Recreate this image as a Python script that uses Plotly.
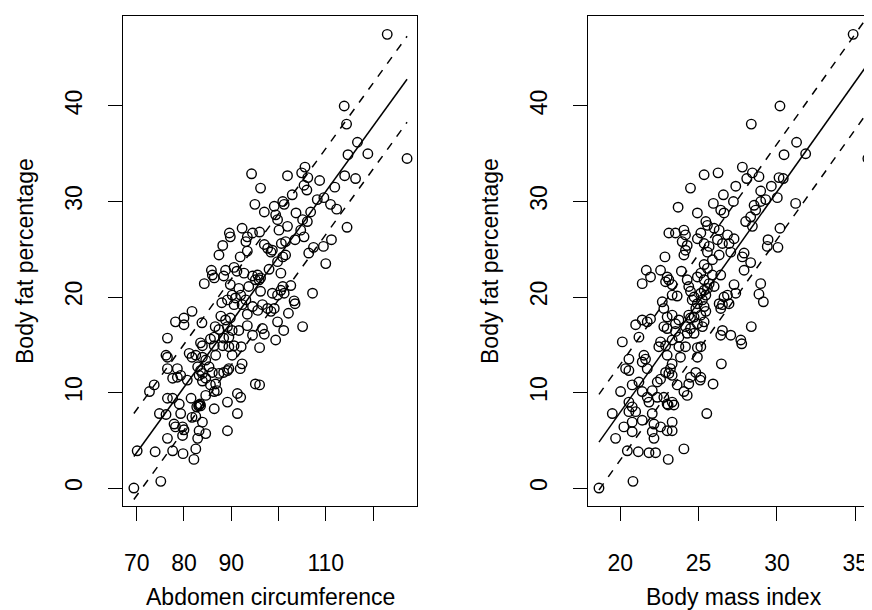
import plotly.graph_objects as go

# ---------------- data ----------------
abdomen = [94.3,
 123.0,113.9,114.4,116.7,114.7,118.9,127.2,105.6,104.9,101.9,106.2,108.7,114.0,116.3,
 96.2,105.4,106.0,111.9,102.9,99.1,100.9,101.2,97.0,108.2,109.6,111.0,112.3,106.8,103.7,99.4,99.8,105.1,106.1,101.9,
 100.1,96.0,104.7,105.4,114.5,103.5,101.5,100.6,111.2,109.5,107.4,106.4,97.0,97.7,98.7,98.4,101.5,100.9,99.8,110.0,
 98.0,100.5,95.6,96.2,95.9,102.6,100.9,100.5,101.2,99.8,98.7,96.2,107.2,103.3,103.5,96.6,97.7,98.4,99.1,95.6,
 102.1,99.8,105.1,101.1,96.6,97.0,99.4,
 96.0,96.0,
 95.0,89.6,89.8,92.3,93.1,93.4,94.5,88.2,87.4,93.4,91.9,85.8,86.0,86.4,84.3,88.8,90.6,91.2,88.4,92.7,94.5,89.8,91.6,
 93.7,95.1,90.2,90.9,92.0,89.2,93.1,90.6,92.3,94.5,88.0,81.7,80.0,78.2,80.0,83.8,87.8,88.8,89.8,86.6,87.4,89.2,90.2,
 93.4,93.4,91.6,94.5,76.5,83.5,85.6,86.4,88.4,89.5,
 83.9,86.4,88.2,89.5,90.6,92.1,76.2,76.5,81.1,81.7,82.5,83.9,84.6,86.7,90.2,92.3,76.5,78.6,79.3,82.9,83.5,83.9,83.2,
 85.3,86.0,87.4,88.4,89.2,89.5,91.9,95.1,77.6,78.6,80.7,83.9,84.6,85.6,86.7,87.0,86.4,73.7,72.7,77.6,76.5,79.0,81.5,
 83.2,83.4,83.1,83.5,82.7,86.4,89.2,91.3,92.0,91.3,89.2,74.8,76.2,79.3,81.7,82.5,77.9,78.2,79.7,80.0,83.9,83.2,84.6,
 79.7,76.5,82.9,70.1,73.9,77.6,79.8,82.5,82.1,75.1,69.4,84.6]
bodyfat_abd = [32.9,
 47.5,40.0,38.1,36.2,34.9,35.0,34.5,33.6,33.0,32.7,32.5,32.2,32.7,32.4,
 31.4,31.7,31.2,31.5,30.7,29.5,30.0,29.7,28.9,30.2,30.4,29.7,29.2,28.9,28.8,28.6,28.1,28.1,27.9,27.4,
 27.0,26.8,27.0,26.3,27.3,26.0,25.8,25.6,26.0,25.3,25.2,24.6,25.5,25.1,24.9,24.7,24.4,24.2,23.7,23.5,
 22.9,22.5,22.3,22.0,21.8,21.2,21.1,20.7,20.4,20.2,20.4,20.6,20.4,19.6,19.3,19.2,18.8,18.5,18.8,18.6,
 18.3,17.4,16.9,16.5,16.7,16.1,15.5,
 14.7,10.8,
 29.7,26.7,26.3,27.2,25.8,26.3,26.7,25.4,24.4,24.8,24.2,22.8,22.3,22.0,21.4,22.8,23.1,22.7,22.2,22.5,22.2,21.3,20.9,
 21.1,21.8,20.2,19.9,20.2,19.7,19.7,19.2,19.2,19.0,19.4,18.5,17.8,17.4,17.1,17.3,18.0,17.6,17.8,16.9,16.6,16.9,16.5,
 18.2,17.0,16.5,16.0,15.7,15.2,15.6,15.8,15.7,15.8,
 14.9,14.9,14.9,14.8,14.9,14.8,13.9,13.7,14.1,13.7,13.9,13.7,13.4,13.9,13.9,13.0,12.5,12.5,11.8,12.7,12.3,12.0,11.8,
 12.7,12.1,12.0,12.1,12.3,12.5,12.5,10.9,11.5,11.6,11.3,11.2,11.5,10.8,10.9,10.2,10.1,10.8,10.1,9.4,9.4,8.8,9.4,
 8.7,8.8,8.6,8.6,8.5,8.3,9.0,9.9,9.5,7.8,6.0,7.8,7.7,7.8,7.4,7.5,6.7,6.4,6.4,6.1,6.9,6.0,5.7,
 5.5,5.2,5.2,3.9,3.8,3.9,3.6,4.1,3.0,0.7,0.0,9.7]

bmi = [34.86,30.19,28.36,31.25,30.45,31.83,27.79,28.43,28.85,25.35,26.24,28.07,30.13,30.40,35.80,
 27.37,29.64,31.19,26.58,25.94,27.22,28.96,29.28,28.96,30.02,28.54,28.64,26.62,26.41,24.92,25.46,25.56,28.32,28.0,
 28.43,25.99,26.31,30.19,25.14,24.92,25.35,25.67,25.56,26.2,26.52,26.84,27.26,26.94,27.05,26.31,29.43,29.38,30.06,
 27.9,27.79,28.32,27.9,25.88,25.35,25.56,25.14,24.92,25.35,25.67,25.88,26.41,27.26,28.96,28.85,29.13,27.37,26.84,
 26.62,26.31,26.52,26.94,26.41,25.99,25.56,25.35,25.14,25.46,25.24,24.92,25.35,25.46,25.14,25.35,25.24,24.71,24.82,
 24.71,24.92,24.71,28.36,26.52,26.41,27.05,27.69,
 27.75,25.14,24.92,24.92,26.45,24.82,25.14,25.1,25.92,25.52,
 24.48,23.69,23.1,23.52,24.06,24.16,23.95,24.27,24.16,24.06,22.85,21.66,21.93,21.4,22.57,22.99,23.1,22.89,23.31,23.9,
 24.27,24.37,23.31,23.63,24.48,24.59,22.68,22.78,22.99,23.31,23.74,23.52,24.37,24.48,24.16,24.48,24.27,20.98,21.4,
 21.72,21.93,22.78,22.99,23.52,23.74,21.19,20.13,22.57,23.31,
 20.55,21.51,21.61,21.4,20.34,20.55,21.72,22.46,22.89,23.74,24.16,22.99,23.84,23.31,22.89,23.1,23.31,23.2,22.57,22.36,
 24.48,24.37,20.76,21.19,20.02,21.4,21.72,22.04,21.83,22.36,22.78,23.63,24.06,24.27,22.99,23.05,23.42,23.31,20.55,
 20.76,20.98,19.49,20.55,20.76,21.4,22.04,22.15,22.57,23.31,22.99,23.31,20.23,20.76,19.7,22.04,22.15,20.45,21.15,
 21.83,22.25,23.06,24.06,20.81,18.64]
bodyfat_bmi = [47.5,40.0,38.1,36.2,34.9,35.0,33.6,33.0,32.6,32.8,33.0,32.4,32.5,32.4,34.5,
 31.6,31.6,29.8,30.7,29.8,30.0,31.1,30.2,30.0,30.4,29.6,29.1,28.8,29.1,28.8,27.9,27.5,28.4,27.9,
 27.4,27.2,27.0,27.2,26.7,26.1,25.6,25.3,24.7,26.0,25.6,26.5,26.1,25.6,24.7,24.4,26.0,25.3,25.2,
 24.6,24.2,23.6,22.8,23.9,23.4,23.0,22.5,22.1,21.8,21.4,22.3,22.3,21.3,21.4,20.3,19.5,20.4,20.2,
 20.0,19.3,19.2,19.3,18.8,21.1,20.9,20.7,20.4,20.2,19.7,19.3,19.0,18.5,18.1,17.4,16.9,20.0,18.8,
 17.9,17.2,16.2,16.9,16.5,16.0,16.0,15.5,
 15.1,14.8,14.7,13.7,13.0,12.1,11.6,11.3,10.9,7.8,
 31.4,29.4,26.7,26.7,27.0,26.5,25.8,25.4,24.9,24.4,24.2,22.8,22.1,21.4,22.8,22.1,21.8,21.6,21.3,22.7,
 21.8,21.1,20.2,20.1,20.6,19.7,19.5,18.8,17.9,18.1,17.6,17.2,18.1,17.8,16.9,16.7,16.2,17.1,17.6,
 17.4,17.7,16.9,16.7,16.4,15.8,15.8,15.3,15.3,15.5,
 13.5,13.9,13.5,13.2,12.5,12.3,12.5,14.8,14.9,14.8,14.8,13.9,13.7,13.0,12.1,12.0,11.8,12.5,11.4,11.1,
 11.6,10.9,10.8,11.1,10.1,10.1,9.5,10.2,9.0,9.5,9.5,10.8,10.1,9.7,8.8,8.7,8.7,9.0,9.0,
 8.5,8.0,7.8,8.0,6.9,7.1,7.8,6.7,6.4,6.9,6.0,6.0,6.4,5.9,5.2,5.9,5.2,3.9,3.8,
 3.7,3.7,3.0,4.1,0.7,0.0]

# fitted lines (solid) and +/- band (dashed)
fit_abd_x = [69.4, 127.2]
fit_abd_y = [3.3, 42.8]
band_abd = 4.5
fit_bmi_x = [18.64, 35.80]
fit_bmi_y = [4.8, 44.4]
band_bmi = 5.0

x1_ticks = [70, 80, 90, 100, 110, 120]
x1_labels = ["70", "80", "90", "", "110", ""]
x2_ticks = [20, 25, 30, 35]
x2_labels = ["20", "25", "30", "35"]
y_ticks = [0, 10, 20, 30, 40]

x_titles = ["Abdomen circumference", "Body mass index"]
y_title = "Body fat percentage"

# ---------------- figure ----------------
W, H = 872, 610
FONT = "Liberation Sans, Arial, Helvetica, sans-serif"
FS = 23
fig = go.Figure()

def add_panel(xs, ys, fx, fy, band, xa, ya):
    fig.add_trace(go.Scatter(x=xs, y=ys, mode="markers", xaxis=xa, yaxis=ya,
                             marker=dict(symbol="circle-open", size=9.5, color="black",
                                         line=dict(width=1.4, color="black")),
                             showlegend=False, hoverinfo="skip"))
    fig.add_trace(go.Scatter(x=fx, y=fy, mode="lines", xaxis=xa, yaxis=ya,
                             line=dict(color="black", width=1.5), showlegend=False))
    for s in (1, -1):
        fig.add_trace(go.Scatter(x=fx, y=[v + s * band for v in fy], mode="lines",
                                 xaxis=xa, yaxis=ya,
                                 line=dict(color="black", width=1.5, dash="8px,8px"),
                                 showlegend=False))

add_panel(abdomen, bodyfat_abd, fit_abd_x, fit_abd_y, band_abd, "x", "y")
add_panel(bmi, bodyfat_bmi, fit_bmi_x, fit_bmi_y, band_bmi, "x2", "y2")

ydom = [(H - 498) / H, (H - 8) / H]
yrange = [-1.88, 49.42]
common = dict(showline=True, mirror=True, linecolor="black", linewidth=1.3,
              ticks="outside", ticklen=14, tickwidth=1.3, tickcolor="black",
              showgrid=False, zeroline=False,
              tickfont=dict(family=FONT, size=FS, color="black"))

fig.update_layout(
    width=W, height=H, margin=dict(l=0, r=0, t=0, b=0),
    paper_bgcolor="white", plot_bgcolor="white",
    xaxis=dict(domain=[115 / W, 409 / W], range=[67.1, 129.3], anchor="y",
               tickvals=x1_ticks, ticktext=x1_labels, ticklabelstandoff=22, **common),
    yaxis=dict(domain=ydom, range=yrange, anchor="x", tickvals=y_ticks,
               tickangle=-90, ticklabelstandoff=17, **common),
    xaxis2=dict(domain=[580 / W, 871 / W], range=[17.94, 36.51], anchor="y2",
                tickvals=x2_ticks, ticktext=x2_labels, ticklabelstandoff=22, **common),
    yaxis2=dict(domain=ydom, range=yrange, anchor="x2", tickvals=y_ticks,
                tickangle=-90, ticklabelstandoff=17, **common),
)

ann = dict(xref="paper", yref="paper", showarrow=False, xanchor="center",
           yanchor="middle", font=dict(family=FONT, size=FS, color="black"))
fig.add_annotation(text=y_title, x=17 / W, y=(H - 253) / H, textangle=-90, **ann)
fig.add_annotation(text=y_title, x=482 / W, y=(H - 253) / H, textangle=-90, **ann)
fig.add_annotation(text=x_titles[0], x=262 / W, y=(H - 589) / H, **ann)
fig.add_annotation(text=x_titles[1], x=725.5 / W, y=(H - 589) / H, **ann)

fig.write_html("out.html")
